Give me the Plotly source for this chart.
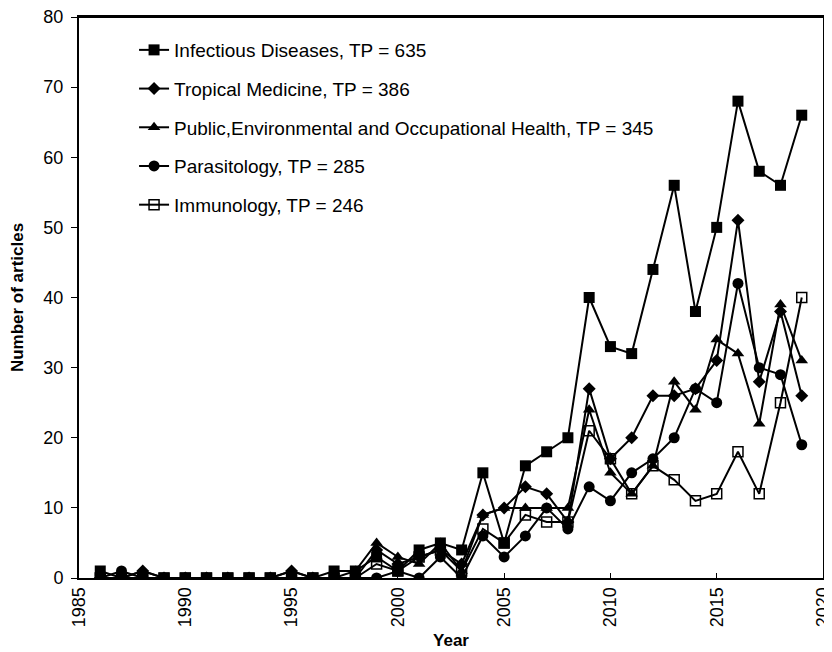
import plotly.graph_objects as go

years = list(range(1986, 2020))
x_ticks = [1985, 1990, 1995, 2000, 2005, 2010, 2015, 2020]

infectious = [1, 0, 0, 0, 0, 0, 0, 0, 0, 0, 0, 1, 1, 3, 1, 4, 5, 4,
              15, 5, 16, 18, 20, 40, 33, 32, 44, 56, 38, 50, 68, 58, 56, 66]
tropical = [0, 0, 1, 0, 0, 0, 0, 0, 0, 1, 0, 0, 0, 4, 2, 3, 4, 2,
            9, 10, 13, 12, 8, 27, 17, 20, 26, 26, 27, 31, 51, 28, 38, 26]
public = [0, 0, 1, 0, 0, 0, 0, 0, 0, 1, 0, 0, 1, 5, 3, 2, 5, 1,
          9, 10, 10, 10, 10, 24, 15, 12, 16, 28, 24, 34, 32, 22, 39, 31]
parasitology = [0, 1, 0, 0, 0, 0, 0, 0, 0, 0, 0, 0, 0, 0, 1, 0, 3, 0,
                6, 3, 6, 10, 7, 13, 11, 15, 17, 20, 27, 25, 42, 30, 29, 19]
immunology = [0, 0, 0, 0, 0, 0, 0, 0, 0, 0, 0, 0, 0, 2, 1, 3, 4, 1,
              7, 5, 9, 8, 8, 21, 17, 12, 16, 14, 11, 12, 18, 12, 25, 40]

names = [
    "Infectious Diseases, TP = 635",
    "Tropical Medicine, TP = 386",
    "Public,Environmental and Occupational Health, TP = 345",
    "Parasitology, TP = 285",
    "Immunology, TP = 246",
]
series = [infectious, tropical, public, parasitology, immunology]
symbols = ["square", "diamond", "triangle-up", "circle", "square-open"]
sizes = [11, 10, 11, 11, 10]

fig = go.Figure()
for i, (nm, ys, sym, sz) in enumerate(zip(names, series, symbols, sizes)):
    fig.add_trace(go.Scatter(
        x=years, y=ys, name=nm, mode="lines+markers",
        line=dict(color="black", width=2),
        marker=dict(symbol=sym, size=sz, color="black",
                    line=dict(color="black", width=1.5 if sym.endswith("open") else 0)),
        legendgroup=f"g{i}",
    ))

# plot-area frame (top edge)
fig.add_shape(type="line", xref="paper", yref="paper", x0=0, x1=1, y0=1, y1=1,
              line=dict(color="black", width=2), layer="above")

font_family = "Arial, Liberation Sans, sans-serif"
fig.update_layout(
    width=832, height=652,
    margin=dict(l=71, r=17, t=9, b=82),
    paper_bgcolor="white", plot_bgcolor="white",
    font=dict(family=font_family, size=18, color="black"),
    showlegend=True,
    legend=dict(x=0.074, y=0.975, xanchor="left", yanchor="top",
                bgcolor="rgba(0,0,0,0)", font=dict(size=19),
                tracegroupgap=11),
    xaxis=dict(range=[1985, 2020.0001], tickvals=x_ticks, tickangle=-90,
               showgrid=False, zeroline=False, showline=True, linecolor="black",
               linewidth=2, mirror=True, ticks="inside", ticklen=5,
               tickcolor="black", automargin=False, ticklabeloverflow="allow",
               title=dict(text="<b>Year</b>", font=dict(size=17), standoff=8)),
    yaxis=dict(range=[0, 80.0001], dtick=10, showgrid=False, zeroline=False,
               showline=True, linecolor="black", linewidth=2, mirror=True,
               ticks="outside", ticklen=6, tickcolor="black", automargin=False,
               ticklabeloverflow="allow", ticklabelstandoff=4,
               title=dict(text="<b>Number of articles</b>", font=dict(size=17),
                          standoff=17)),
)

fig.write_html("out.html")
